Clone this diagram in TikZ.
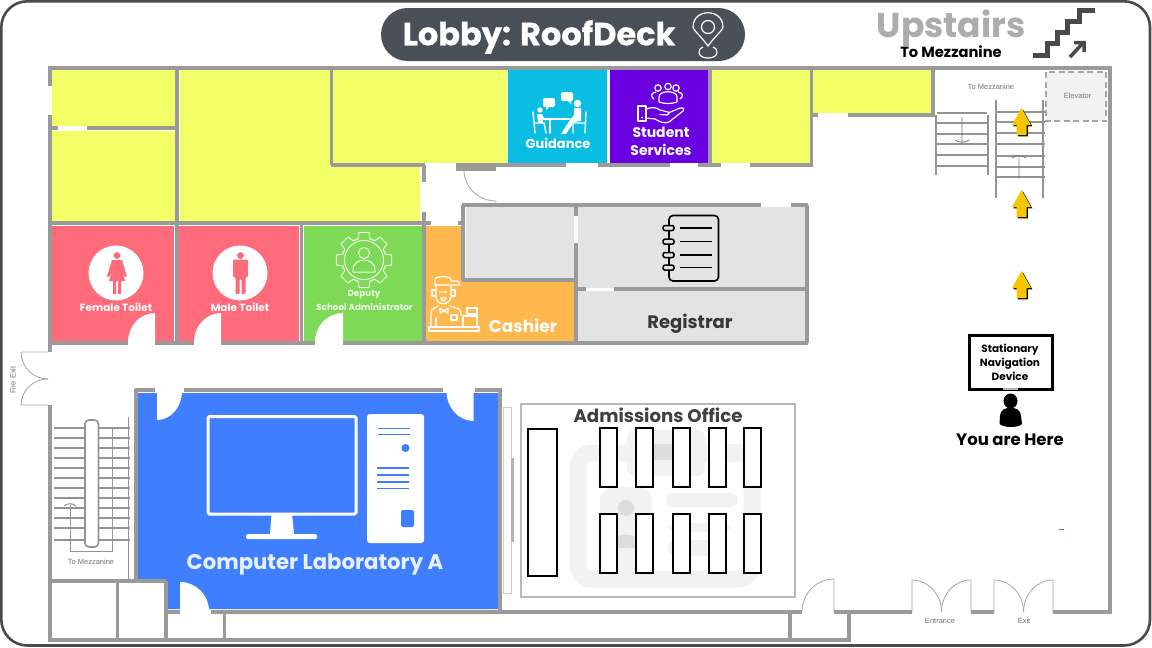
\documentclass[tikz,border=0pt]{standalone}
\usepackage{fontspec}
\setmainfont{Poppins}
\newfontfamily\heavyfont{Poppins}[BoldFeatures={FakeBold=0.6}]
\newfontfamily\planfont{Liberation Sans}
\definecolor{wallc}{HTML}{9A9A9A}
\definecolor{framec}{HTML}{4A4A4A}
\definecolor{pillc}{HTML}{4A5058}
\definecolor{yel}{HTML}{F3FF66}
\definecolor{cyanroom}{HTML}{0ABDE3}
\definecolor{purpleroom}{HTML}{6A00E0}
\definecolor{redroom}{HTML}{FF6B7A}
\definecolor{greenroom}{HTML}{7ED957}
\definecolor{orangeroom}{HTML}{FFB84D}
\definecolor{grayroom}{HTML}{E3E3E3}
\definecolor{labroom}{HTML}{3F7FFF}
\definecolor{arrowy}{HTML}{F7C600}
\definecolor{wm}{HTML}{F2F2F2}
\definecolor{wmd}{HTML}{DDDDDD}
\tikzset{
 wall/.style={draw=wallc,line width=3.2pt},
 stairl/.style={draw=gray!85,line width=1.3pt},
 leaf/.style={draw=gray!70,line width=0.8pt},
 iconw/.style={draw=white,line width=1.4pt,line join=round,line cap=round},
 planlabel/.style={font=\planfont\fontsize{7.5}{8}\selectfont,text=gray!90!black,inner sep=0pt},
 roomlabel/.style={font=\bfseries\fontsize{#1}{#1}\selectfont,text=white,inner sep=0pt},
 darklabel/.style={font=\bfseries\fontsize{#1}{#1}\selectfont,text=black,inner sep=0pt},
 blackrect/.style={draw=black,line width=2pt,fill=white},
 yarrow/.style={fill=arrowy,draw=none},
}
\newcommand{\upArrow}[2]{%
 \fill[black,shift={(#1+1.3,#2+1.3)}] (0,0) -- (9.5,17) -- (5,17) -- (5,27) -- (-5,27) -- (-5,17) -- (-9.5,17) -- cycle;
 \fill[yarrow,shift={(#1,#2)}] (0,0) -- (9.5,17) -- (5,17) -- (5,27) -- (-5,27) -- (-5,17) -- (-9.5,17) -- cycle;}
\begin{document}
\begin{tikzpicture}[x=1pt,y=-1pt]
\useasboundingbox (0,0) rectangle (1152,648);
\fill[white] (0,0) rectangle (1152,648);
% room fills
\fill[yel] (52,70) rectangle (176,126);
\fill[yel] (52,131) rectangle (176,221);
\fill[yel] (180,70) -- (330,70) -- (330,167) -- (420,167) -- (420,221) -- (180,221) -- cycle;
\fill[yel] (333,70) rectangle (507,163);
\fill[cyanroom] (508,70) rectangle (607,163);
\fill[purpleroom] (610,70) rectangle (708,163);
\fill[yel] (712,70) rectangle (810,163);
\fill[yel] (813,70) rectangle (931,113);
\fill[redroom] (52,226) rectangle (174,342);
\fill[redroom] (179,226) rectangle (299,342);
\fill[greenroom] (304,226) rectangle (423,342);
\fill[orangeroom] (425,226) -- (465,226) -- (465,282) -- (574,282) -- (574,342) -- (425,342) -- cycle;
\fill[grayroom] (466,207) rectangle (574,278);
\fill[grayroom] (578,207) rectangle (805,288);
\fill[grayroom] (578,291) rectangle (805,341);
\fill[labroom] (138,393) -- (498,393) -- (498,609) -- (167,609) -- (167,581) -- (138,581) -- cycle;
% door cut-outs
\fill[white] (155,342) -- (155,313) arc[start angle=270,end angle=180,x radius=27,y radius=29] -- cycle;
\fill[white] (221,342) -- (221,313) arc[start angle=270,end angle=180,x radius=27,y radius=29] -- cycle;
\fill[white] (343,342) -- (343,313) arc[start angle=270,end angle=180,x radius=28,y radius=29] -- cycle;
\fill[white] (157,391) -- (157,420) arc[start angle=90,end angle=0,x radius=25,y radius=29] -- cycle;
\fill[white] (473.5,391) -- (473.5,421) arc[start angle=90,end angle=180,x radius=27,y radius=30] -- cycle;
\fill[white] (180,611) -- (180,582) arc[start angle=270,end angle=360,x radius=29,y radius=29] -- cycle;
% walls
\draw[wall] (48,68) -- (1112,68);
\draw[wall] (50,68) -- (50,86) (50,115) -- (50,352) (50,405) -- (50,640);
\draw[wall] (48,640) -- (851,640);
\draw[wall] (1110,68) -- (1110,613);
\draw[wall] (52,128) -- (58,128) (87,128) -- (177,128);
\draw[wall] (177,68) -- (177,343);
\draw[wall] (50,223) -- (423,223);
\draw[wall] (331.5,68) -- (331.5,165);
\draw[wall] (331,165) -- (425,165) (456,165) -- (566,165) (598,165) -- (670,165) (698,165) -- (721,165) (750,165) -- (813,165);
\draw[wall] (456,169) -- (496,169);
\draw[wall] (710,68) -- (710,165) (811.5,68) -- (811.5,165);
\draw[wall] (933,68) -- (933,115) (811,115) -- (818,115) (848,115) -- (935,115);
\draw[wall] (424,165) -- (424,182) (424,212) -- (424,343);
\draw[wall] (424,223) -- (431,223) (458,223) -- (463,223);
\draw[wall] (463,205) -- (463,281) (461.5,280) -- (576,280);
\draw[wall] (461.5,205) -- (761,205) (791,205) -- (808,205);
\draw[wall] (807,205) -- (807,343);
\draw[wall] (576,205) -- (576,216) (576,243) -- (576,343);
\draw[wall] (578,289) -- (586,289) (614,289) -- (807,289);
\draw[wall] (301.5,223) -- (301.5,343);
\draw[wall] (50,343) -- (128,343) (155,343) -- (194,343) (221,343) -- (315,343) (343,343) -- (808,343);
\draw[wall] (135,390) -- (155,390) (184,390) -- (443,390) (475,390) -- (501.5,390);
\draw[wall] (136,388.5) -- (136,581);
\draw[wall] (50,581) -- (166,581) (117.5,581) -- (117.5,640) (166,581) -- (166,640);
\draw[wall] (500,390) -- (500,612);
\draw[wall] (166,612) -- (180,612) (211,612) -- (802,612);
\draw[wall] (224.5,612) -- (224.5,640) (790,612) -- (790,640) (849,612) -- (849,641.5);
\draw[wall] (834,612) -- (912,612) (971,612) -- (994,612) (1053,612) -- (1111.5,612);
% doors
\draw[leaf] (21,352) -- (48,352) (21,352) arc[start angle=180,end angle=90,x radius=27,y radius=27];
\draw[leaf] (21,405) -- (48,405) (21,405) arc[start angle=180,end angle=270,x radius=27,y radius=26];
\draw[leaf] (464,170) arc[start angle=180,end angle=90,x radius=32,y radius=31] -- (496,205);
\draw[leaf] (834,612) -- (834,579) arc[start angle=270,end angle=180,x radius=32,y radius=33];
\draw[leaf] (912,612) -- (912,580) arc[start angle=270,end angle=360,x radius=29.5,y radius=32];
\draw[leaf] (971,612) -- (971,580) arc[start angle=270,end angle=180,x radius=29.5,y radius=32];
\draw[leaf] (994,612) -- (994,580) arc[start angle=270,end angle=360,x radius=29.5,y radius=32];
\draw[leaf] (1053,612) -- (1053,580) arc[start angle=270,end angle=180,x radius=29.5,y radius=32];
% elevator
\draw[draw=gray!70,line width=1.3pt,dash pattern=on 6pt off 3.5pt,fill=gray!10] (1046,72) rectangle (1106,121);
\node[planlabel] (elev) at (1077.5,96) {Elevator};
\node[planlabel] (mezz1) at (991,87) {To Mezzanine};
% top-right stairs
\foreach \y in {113,123,134,144,155,166} \draw[stairl] (937,\y) -- (987,\y);
\foreach \y in {112,122,133,144,156,167,177} \draw[stairl] (995,\y) -- (1045,\y);
\draw[stairl,line width=1.6pt] (936,115) -- (936,175) (988,115) -- (988,175) (996,100) -- (996,198) (1043,100) -- (1043,198);
\draw[draw=gray!90!black,line width=0.8pt] (962,117) -- (962,142) (955,140) .. controls (958,143) and (966,143) .. (969,140);
\draw[draw=gray!90!black,line width=0.8pt] (1019,158) -- (1019,178) (1012,158) .. controls (1015,155) and (1023,155) .. (1026,158);
% bottom-left stairs
\foreach \y in {428,438,448,458,468,478,488,498,508,518,528,540} \draw[stairl] (54,\y) -- (130,\y);
\draw[stairl,line width=1.6pt,fill=white,rounded corners=4pt] (85,420) rectangle (98.5,547);
\draw[stairl,line width=1pt] (128.6,417) -- (128.6,580) (112,427) -- (112,551) -- (70,551) -- (70,505);
\draw[stairl,line width=1pt] (64,506) .. controls (67,503) and (73,503) .. (76,506);
\node[planlabel] (mezz2) at (91,562) {To Mezzanine};
\node[planlabel,rotate=90] (fire) at (13,380) {Fire Exit};
\node[planlabel] (entr) at (940,621) {Entrance};
\node[planlabel] (exitl) at (1024,621) {Exit};
% lab side strip
\draw[draw=gray!40,line width=1pt] (503,407) rectangle (511,593);
\fill[gray!60] (511,458) rectangle (514,542);
% admissions
\draw[draw=gray!55,line width=1.8pt,fill=white] (521,404) rectangle (795,597);
\draw[wm,line width=17pt,rounded corners=14pt] (578,453) rectangle (752,579);
\fill[wm,rounded corners=8pt] (627,430) rectangle (705,476);
\fill[wmd] (642,444) rectangle (690,460);
\fill[wm] (690,444) rectangle (748,460);
\fill[wm,rounded corners=7pt] (666,493) rectangle (738,507);
\fill[wm,rounded corners=7pt] (668,523) rectangle (730,532);
\fill[wm,rounded corners=7pt] (668,540) rectangle (724,556);
\fill[wm,rounded corners=14pt] (600,487) rectangle (652,580);
\fill[wmd] (626,508) circle[radius=8];
\fill[wmd] (610,548) .. controls (613,530) and (639,530) .. (642,548) -- cycle;
\draw[blackrect] (528,429) rectangle (556.5,576);
\foreach \x in {608,644.5,681,717,752.6} {
 \draw[blackrect] (\x-8.5,428) rectangle (\x+8.5,487);
 \draw[blackrect] (\x-8.5,514) rectangle (\x+8.5,573);
}
\node[font=\bfseries\fontsize{18.2}{18.2}\selectfont,text=black!75,inner sep=0pt] (adm) at (658,415.5) {Admissions Office};
% frame
\draw[framec,line width=2.6pt,rounded corners=26pt] (1.3,1.3) rectangle (1150,645.5);
% title
\fill[pillc,rounded corners=26.5pt] (381,8) rectangle (745,61);
\node[font=\heavyfont\bfseries\fontsize{32}{32}\selectfont,text=white,inner sep=0pt] (title) at (539,37) {Lobby: RoofDeck};
\draw[white,line width=1.2pt] (708,46) .. controls (700,35) and (693,30) .. (693,27) .. controls (693,8) and (723,8) .. (723,27) .. controls (723,30) and (716,35) .. (708,46) -- cycle;
\draw[white,line width=1.2pt] (708,27) circle[radius=6.5];
\draw[white,line width=1.2pt] (703,47) .. controls (696,50) and (698,58) .. (708,58) .. controls (718,58) and (720,50) .. (713,47);
\node[font=\bfseries\fontsize{34.5}{34.5}\selectfont,text=gray!65,inner sep=0pt] (up) at (951,28.5) {Upstairs};
\node[darklabel=14.7] (tomez) at (951,52) {To Mezzanine};
\draw[framec,line width=5pt] (1033,55.5) -- (1047,55.5) -- (1047,43) -- (1057,43) -- (1057,32) -- (1067,32) -- (1067,21) -- (1079,21) -- (1079,10) -- (1095,10);
\draw[framec,line width=3.5pt] (1070,57) -- (1083,43) (1074,42.5) -- (1084,42.5) -- (1084,52);
% arrows
\upArrow{1021.5}{108}
\upArrow{1021.5}{190}
\upArrow{1021.5}{271}
% toilets
\fill[white] (116,273) circle[radius=27.5];
\fill[white] (240,273) circle[radius=27.5];
\begin{scope}[redroom]
\fill (117,255.5) circle[radius=3.4];
\fill (112,260) -- (122,260) -- (125,270) -- (127,276) -- (125,277) -- (122,271) -- (125,281) -- (121,281) -- (121,294) -- (118,294) -- (118,281) -- (116,281) -- (116,294) -- (113,294) -- (113,281) -- (109,281) -- (112,271) -- (109,277) -- (107,276) -- (109,270) -- cycle;
\fill (240.5,255.5) circle[radius=3.4];
\fill[rounded corners=1pt] (233,259.5) -- (248,259.5) -- (248,277) -- (245.5,277) -- (245.5,294) -- (241.5,294) -- (241.5,279) -- (239.5,279) -- (239.5,294) -- (235.5,294) -- (235.5,277) -- (233,277) -- cycle;
\end{scope}
\node[roomlabel=10.5] (ft) at (116,307) {Female Toilet};
\node[roomlabel=10.5] (mt) at (240,307) {Male Toilet};
% deputy gear
\begin{scope}[shift={(364,260)},draw=white!85!greenroom,line width=1pt]
\draw (-16:22) \foreach \a in {0,45,...,315} { -- (\a-16:22) -- (\a-10:28) -- (\a+10:28) -- (\a+16:22)} -- cycle;
\draw (0,0) circle[radius=19.5];
\draw (0,-7) circle[radius=5.5];
\draw (-11,12) -- (11,12) .. controls (12,2) and (4,0) .. (0,0) .. controls (-4,0) and (-12,2) .. (-11,12) -- cycle;
\end{scope}
\node[font=\bfseries\fontsize{8.8}{8.8}\selectfont,text=white!85!greenroom,inner sep=0pt] (dep1) at (364,295) {Deputy};
\node[font=\bfseries\fontsize{8.8}{8.8}\selectfont,text=white!85!greenroom,inner sep=0pt] (dep2) at (364.5,307) {School Administrator};
% cashier
\begin{scope}[iconw,line width=1.2pt]
\draw (435,285) -- (435,279) .. controls (436,276) and (450,276) .. (451,279) -- (451,281) -- (458,281) -- (460,285) -- cycle;
\draw (436,285) -- (436,297) .. controls (437,306) and (449,306) .. (451,297) -- (451,285);
\draw (436,290) -- (432,290) -- (432,296) -- (436,296) (451,290) -- (455,290) -- (455,296) -- (451,296);
\draw (440,292) -- (443,292) (447,292) -- (444,292) (441,298) -- (446,298) -- (444,301) -- (442,301) -- cycle;
\draw (438,306) -- (433,309) .. controls (431,310) and (431,312) .. (431,327) (450,306) -- (459,309) .. controls (460,310) and (461,313) .. (461,315);
\draw (440,308) -- (444,311) -- (448,308) -- (448,313) -- (444,311) -- (440,313) -- cycle;
\draw (429,327) rectangle (479,331);
\draw (436,318) -- (436,327) (451,315) -- (457,315) -- (457,320) -- (451,320) -- cycle;
\draw (463,327) -- (463,316) -- (477,316) -- (477,327);
\draw (467,308) rectangle (477,314) (472,314) -- (472,316);
\end{scope}
\node[roomlabel=17] (cash) at (523,326) {Cashier};
% notebook
\draw[black,line width=1.6pt,rounded corners=4pt] (669,215.5) rectangle (718.5,281);
\foreach \y in {228,241.7,255,267.7} {
 \draw[black,line width=1.5pt,fill=grayroom,rounded corners=2pt] (663,\y-2.5) rectangle (674,\y+2.5);
 \draw[black,line width=1.5pt] (680,\y) -- (712,\y);
}
\node[font=\bfseries\fontsize{18}{18}\selectfont,text=black!78,inner sep=0pt] (reg) at (690,324) {Registrar};
% guidance icon
\begin{scope}[iconw,line width=1.4pt]
\fill[white] (540,110) circle[radius=2.7];
\fill[white] (577.5,103.5) circle[radius=3.8];
\fill[white,rounded corners=2pt] (543,98) rectangle (555,107);
\fill[white] (546,106) -- (546,110) -- (550,106) -- cycle;
\fill[white,rounded corners=2pt] (561,92) rectangle (573,101);
\fill[white] (567,100) -- (571,104) -- (571,100) -- cycle;
\draw (533,112) -- (535,133) (535,123) -- (544,123) -- (546,133);
\draw (586,112) -- (585,133) (573,123) -- (585,123) (573,123) -- (573,133);
\draw (548,119) -- (570,119) (550,119) -- (550,133);
\fill[white] (537,114) -- (542,114) -- (544,118) -- (548,118) -- (548,120) -- (542,120) -- (544,124) -- (538,122) -- cycle;
\fill[white] (574,108) -- (581,108) -- (581,121) -- (574,122) -- (566,134) -- (561,134) -- (570,120) -- (574,115) -- cycle;
\end{scope}
\node[roomlabel=13] (guid) at (558,143) {Guidance};
% student services icon
\begin{scope}[iconw,line width=1.2pt]
\draw (658,88) circle[radius=3.2] (668,86.5) circle[radius=3.2] (676,88) circle[radius=3.2];
\draw (654,99) .. controls (650,96) and (651,93) .. (656,92) (680,99) .. controls (684,96) and (683,93) .. (678,92);
\draw (659,102) -- (659,97) .. controls (659,90) and (677,90) .. (677,97) -- (677,102) .. controls (672,104) and (664,104) .. (659,102) -- cycle;
\draw (638,106) rectangle (646,121);
\fill[white] (642,117.5) circle[radius=1];
\draw (646,109) .. controls (652,107) and (656,107) .. (660,110) -- (668,112) .. controls (670,113) and (669,115) .. (667,115) -- (660,114.5) (668,113) -- (680,108) .. controls (684,107) and (685,110) .. (683,111) -- (669,122) .. controls (665,124) and (660,122) .. (655,119) -- (646,118);
\end{scope}
\node[roomlabel=14] (stu1) at (661,132) {Student};
\node[roomlabel=14] (stu2) at (661,150) {Services};
% computer
\draw[white,line width=3pt,rounded corners=1.5pt] (208,416.5) rectangle (356,514);
\fill[white] (271.5,514) -- (292,514) -- (294,534) -- (270,534) -- cycle;
\fill[white,rounded corners=1.5pt] (246,534) rectangle (317,539);
\fill[white,rounded corners=3pt] (367,414) rectangle (424,543);
\begin{scope}[labroom,line width=1.6pt]
\draw (378,428.5) -- (410,428.5) (378,434.5) -- (410,434.5);
\fill (405.5,448) circle[radius=4];
\draw (377,468) -- (409,468) (377,475) -- (409,475) (377,482) -- (409,482) (377,488.5) -- (409,488.5);
\fill[rounded corners=2pt] (401,510) rectangle (414,527);
\end{scope}
\node[font=\bfseries\fontsize{21.2}{21.2}\selectfont,text=white!88!labroom,inner sep=0pt] (lab) at (315,564) {Computer Laboratory A};
% device
\draw[black,line width=3pt,fill=white] (969,335.5) rectangle (1052,389);
\fill[gray!60] (1003,388) rectangle (1018,390);
\node[inner sep=0pt,align=center,text=black,font=\bfseries\fontsize{10.5}{14.3}\selectfont] (dev) at (1010,362.5) {Stationary\\Navigation\\Device};
\fill[black] (1010.5,401) ellipse[x radius=7,y radius=7.5];
\fill[black] (999.5,424) -- (1000,416) .. controls (1001,409) and (1005,408) .. (1010.5,408) .. controls (1016,408) and (1020,409) .. (1021,416) -- (1022,424) .. controls (1018,428) and (1004,428) .. (999.5,424) -- cycle;
\node[darklabel=16.5] (here) at (1010,440) {You are Here};
\draw[purpleroom!70,line width=0.9pt] (1059,529) -- (1064,529);
\end{tikzpicture}
\end{document}
